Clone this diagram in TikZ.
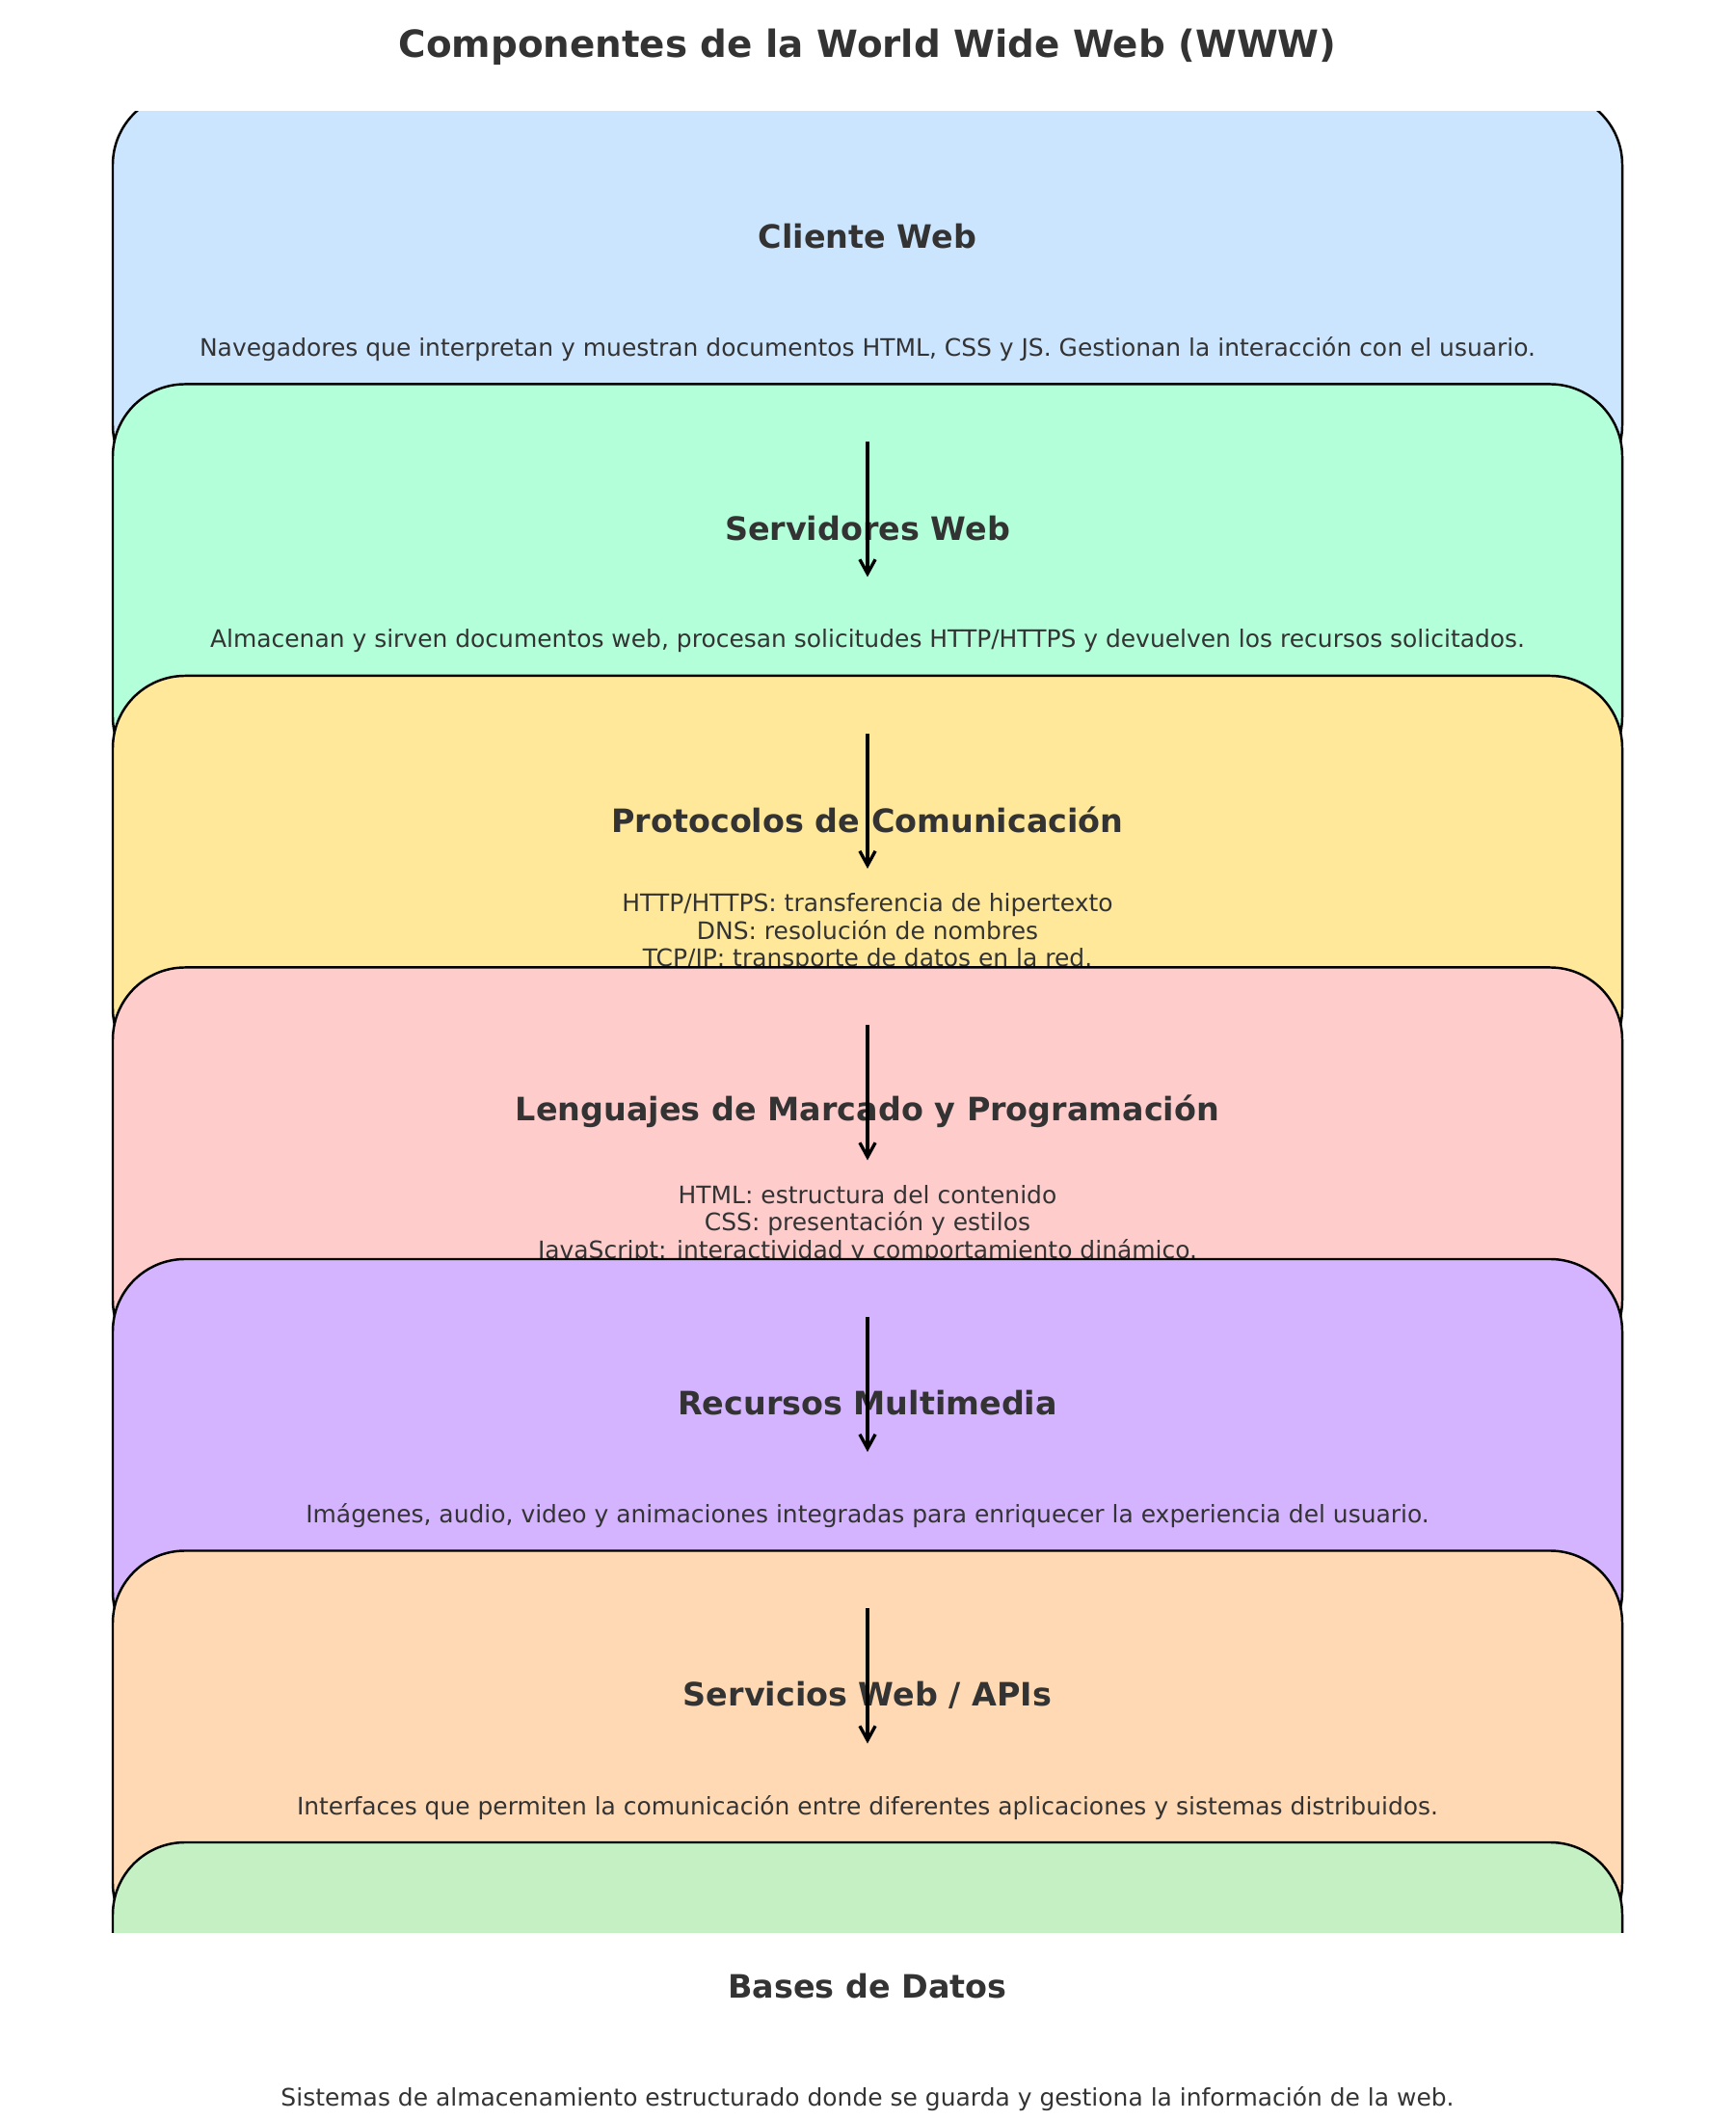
\documentclass[tikz,border=0pt]{standalone}
\usepackage{fontspec}
\setmainfont{DejaVu Sans}
\usetikzlibrary{arrows.meta}

\definecolor{texto}{HTML}{333333}
\definecolor{azul}{HTML}{CCE5FF}
\definecolor{menta}{HTML}{B3FFD9}
\definecolor{amarillo}{HTML}{FFE899}
\definecolor{rosa}{HTML}{FFCCCC}
\definecolor{lila}{HTML}{D4B3FF}
\definecolor{durazno}{HTML}{FFD9B3}
\definecolor{verde}{HTML}{C4F0C4}

\begin{document}
\begin{tikzpicture}[node distance=3.025cm,>={Straight Barb[length=4.2pt,width=4.6pt]}]

  \tikzstyle{caja}=[draw=black,line width=0.7pt,rounded corners=0.75cm,minimum width=15.66cm,minimum height=4.2cm,inner sep=0pt,outer sep=0pt]
  \tikzstyle{titulo}=[text=texto,font=\fontsize{9.5}{11}\selectfont\bfseries]
  \tikzstyle{desc}=[text=texto,font=\fontsize{7.1}{8.1}\selectfont,align=center]
  \tikzstyle{flecha}=[->,line width=0.95pt]

  \useasboundingbox (0,0) rectangle (18,22);

  \node [text=texto,font=\fontsize{11.05}{13}\selectfont\bfseries] (tit) at (9,21.51) {Componentes de la World Wide Web (WWW)};

  \begin{scope}
    \clip (0,1.95) rectangle (18,20.84);

    \node [caja,fill=azul] (c1) at (9,18.94) {};
    \node [titulo] (t1) at ([yshift=-1.495cm]c1.north) {Cliente Web};
    \node [desc] (d1) at ([yshift=-2.665cm]c1.north) {Navegadores que interpretan y muestran documentos HTML, CSS y JS. Gestionan la interacción con el usuario.};

    \node [caja,fill=menta] (c2) [below of=c1] {};
    \node [titulo] (t2) at ([yshift=-1.495cm]c2.north) {Servidores Web};
    \node [desc] (d2) at ([yshift=-2.665cm]c2.north) {Almacenan y sirven documentos web, procesan solicitudes HTTP/HTTPS y devuelven los recursos solicitados.};

    \node [caja,fill=amarillo] (c3) [below of=c2] {};
    \node [titulo] (t3) at ([yshift=-1.495cm]c3.north) {Protocolos de Comunicación};
    \node [desc] (d3) at ([yshift=-2.665cm]c3.north) {HTTP/HTTPS: transferencia de hipertexto\\DNS: resolución de nombres\\TCP/IP: transporte de datos en la red.};

    \node [caja,fill=rosa] (c4) [below of=c3] {};
    \node [titulo] (t4) at ([yshift=-1.495cm]c4.north) {Lenguajes de Marcado y Programación};
    \node [desc] (d4) at ([yshift=-2.665cm]c4.north) {HTML: estructura del contenido\\CSS: presentación y estilos\\JavaScript: interactividad y comportamiento dinámico.};

    \node [caja,fill=lila] (c5) [below of=c4] {};
    \node [titulo] (t5) at ([yshift=-1.495cm]c5.north) {Recursos Multimedia};
    \node [desc] (d5) at ([yshift=-2.665cm]c5.north) {Imágenes, audio, video y animaciones integradas para enriquecer la experiencia del usuario.};

    \node [caja,fill=durazno] (c6) [below of=c5] {};
    \node [titulo] (t6) at ([yshift=-1.495cm]c6.north) {Servicios Web / APIs};
    \node [desc] (d6) at ([yshift=-2.665cm]c6.north) {Interfaces que permiten la comunicación entre diferentes aplicaciones y sistemas distribuidos.};

    \node [caja,fill=verde] (c7) [below of=c6] {};
  \end{scope}

  \node [titulo] (t7) at ([yshift=-1.495cm]c7.north) {Bases de Datos};
  \node [desc] (d7) at ([yshift=-2.665cm]c7.north) {Sistemas de almacenamiento estructurado donde se guarda y gestiona la información de la web.};

  % flechas entre capas
  \draw [flecha] ([yshift=0.575cm]c1.south) -- ([yshift=-2.0cm]c2.north);
  \draw [flecha] ([yshift=0.575cm]c2.south) -- ([yshift=-2.0cm]c3.north);
  \draw [flecha] ([yshift=0.575cm]c3.south) -- ([yshift=-2.0cm]c4.north);
  \draw [flecha] ([yshift=0.575cm]c4.south) -- ([yshift=-2.0cm]c5.north);
  \draw [flecha] ([yshift=0.575cm]c5.south) -- ([yshift=-2.0cm]c6.north);

\end{tikzpicture}
\end{document}
